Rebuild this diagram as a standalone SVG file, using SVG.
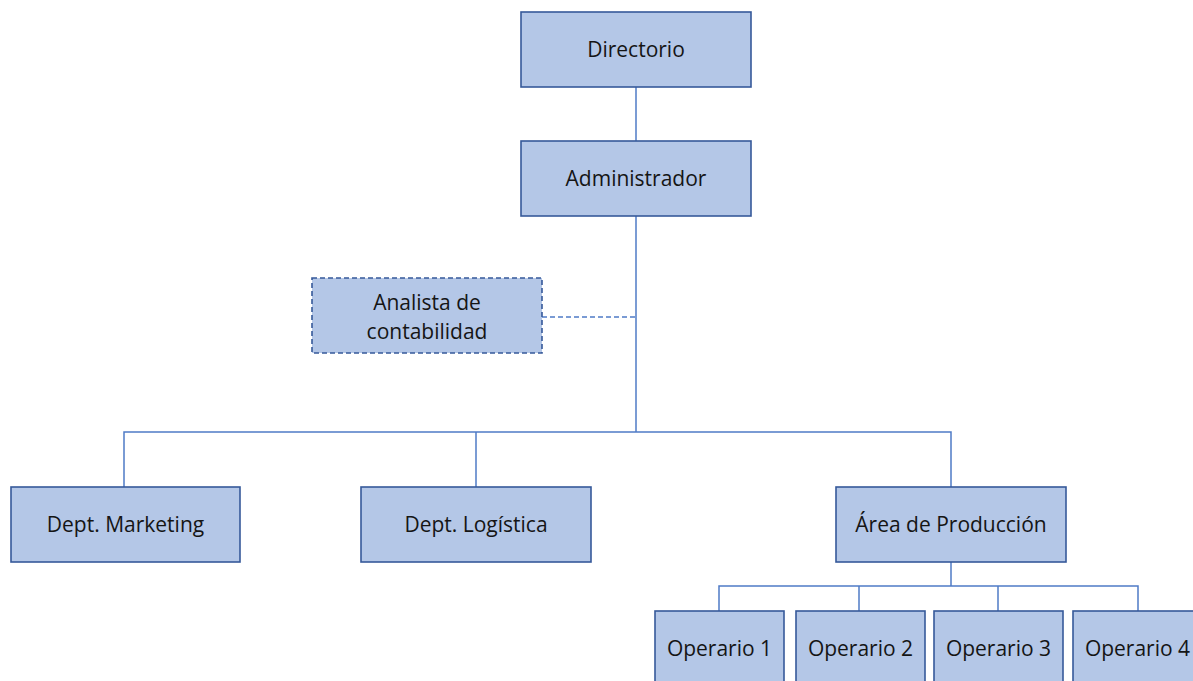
<svg xmlns="http://www.w3.org/2000/svg" width="1193" height="681" viewBox="0 0 1193 681">
  <style>
    .box { fill: #B4C7E7; stroke: #36599A; stroke-width: 1.6; }
    .dash { stroke-dasharray: 5 3; }
    .link { fill: none; stroke: #4F7BC6; stroke-width: 1.5; }
    .lbl { font-family: "Open Sans", "Noto Sans", sans-serif; font-size: 21px; fill: #151515; text-anchor: middle; }
  </style>
  <rect width="1193" height="681" fill="#ffffff"/>

  <!-- connectors -->
  <g id="connectors">
    <path class="link" d="M636 87 V141"/>
    <path class="link" d="M636 216 V432"/>
    <path class="link dash" d="M542 317 H636"/>
    <path class="link" d="M124 487 V432 H951 V487"/>
    <path class="link" d="M476 432 V487"/>
    <path class="link" d="M951 562 V586"/>
    <path class="link" d="M719 611 V586 H1138 V611"/>
    <path class="link" d="M859 586 V611"/>
    <path class="link" d="M998 586 V611"/>
  </g>

  <g id="directorio">
    <rect class="box" x="521" y="12" width="230" height="75"/>
    <text class="lbl" x="636" y="57">Directorio</text>
  </g>
  <g id="administrador">
    <rect class="box" x="521" y="141" width="230" height="75"/>
    <text class="lbl" x="636" y="186">Administrador</text>
  </g>
  <g id="analista">
    <rect class="box dash" x="312" y="278" width="230" height="75"/>
    <text class="lbl" x="427" y="309.5">Analista de</text>
    <text class="lbl" x="427" y="338.5">contabilidad</text>
  </g>
  <g id="marketing">
    <rect class="box" x="11" y="487" width="229" height="75"/>
    <text class="lbl" x="125.5" y="531.5">Dept. Marketing</text>
  </g>
  <g id="logistica">
    <rect class="box" x="361" y="487" width="230" height="75"/>
    <text class="lbl" x="476" y="531.5">Dept. Logística</text>
  </g>
  <g id="produccion">
    <rect class="box" x="836" y="487" width="230" height="75"/>
    <text class="lbl" x="951" y="531.5">Área de Producción</text>
  </g>
  <g id="operario1">
    <rect class="box" x="655" y="611" width="129" height="75"/>
    <text class="lbl" x="719.5" y="655.5">Operario 1</text>
  </g>
  <g id="operario2">
    <rect class="box" x="796" y="611" width="129" height="75"/>
    <text class="lbl" x="860.5" y="655.5">Operario 2</text>
  </g>
  <g id="operario3">
    <rect class="box" x="934" y="611" width="129" height="75"/>
    <text class="lbl" x="998.5" y="655.5">Operario 3</text>
  </g>
  <g id="operario4">
    <rect class="box" x="1073" y="611" width="129" height="75"/>
    <text class="lbl" x="1137.5" y="655.5">Operario 4</text>
  </g>
</svg>
